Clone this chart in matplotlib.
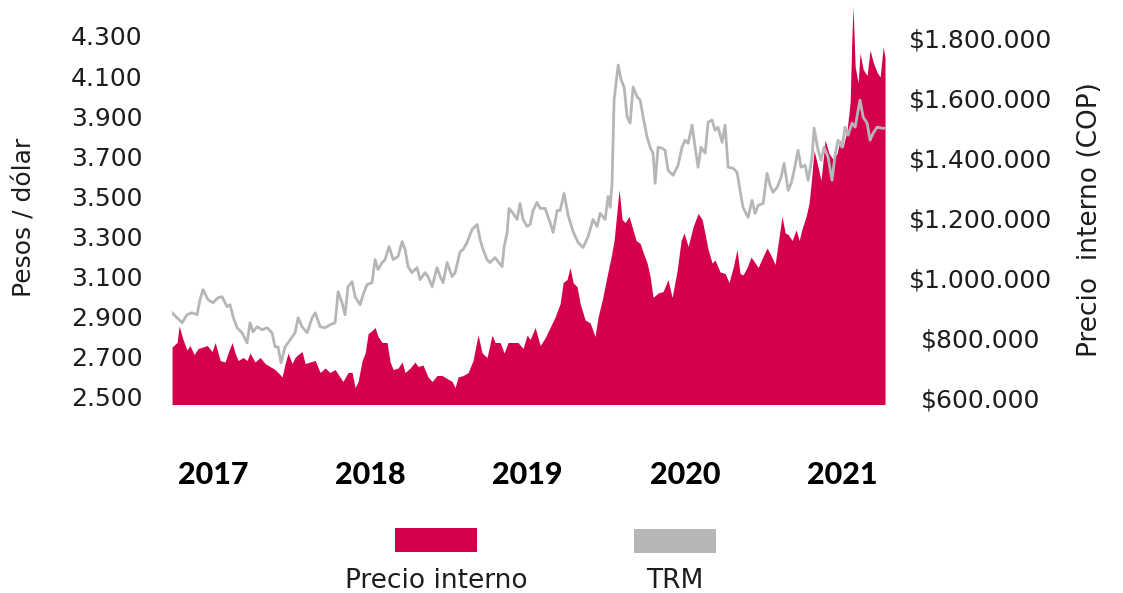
import matplotlib
matplotlib.use('Agg')
import matplotlib.pyplot as plt
from matplotlib.patches import Rectangle

# fecha en años decimales; TRM en pesos por dólar
trm_t = [2017.239, 2017.271, 2017.303, 2017.334, 2017.366, 2017.398, 2017.417, 2017.436, 2017.468, 2017.500,
         2017.532, 2017.557, 2017.589, 2017.608, 2017.627, 2017.653, 2017.684, 2017.716, 2017.735, 2017.754,
         2017.780, 2017.812, 2017.843, 2017.875, 2017.894, 2017.913, 2017.932, 2017.958, 2017.990, 2018.021,
         2018.041, 2018.066, 2018.098, 2018.130, 2018.149, 2018.181, 2018.212, 2018.244, 2018.276, 2018.295,
         2018.320, 2018.339,
         2018.358, 2018.384, 2018.403, 2018.435, 2018.454, 2018.479, 2018.511, 2018.530, 2018.549, 2018.575,
         2018.594, 2018.619, 2018.645, 2018.676, 2018.702, 2018.721, 2018.740, 2018.765, 2018.797, 2018.816,
         2018.848, 2018.867, 2018.893, 2018.924, 2018.944, 2018.963, 2018.988, 2019.020, 2019.039, 2019.071,
         2019.090, 2019.115, 2019.147, 2019.179, 2019.198, 2019.217, 2019.242, 2019.261, 2019.293, 2019.312,
         2019.338, 2019.351, 2019.370, 2019.382, 2019.408, 2019.433, 2019.452, 2019.471, 2019.497, 2019.516,
         2019.535, 2019.560, 2019.580, 2019.611, 2019.643, 2019.662, 2019.688, 2019.707, 2019.732, 2019.758,
         2019.789, 2019.821, 2019.853, 2019.885, 2019.916, 2019.942, 2019.961, 2019.993, 2020.012, 2020.025,
         2020.037, 2020.050, 2020.076, 2020.095, 2020.114, 2020.133, 2020.152, 2020.171, 2020.197, 2020.216,
         2020.235, 2020.260, 2020.279, 2020.298, 2020.311, 2020.330, 2020.355, 2020.374, 2020.393, 2020.425,
         2020.457, 2020.482, 2020.501, 2020.521, 2020.546, 2020.565, 2020.584, 2020.603, 2020.629, 2020.648,
         2020.673, 2020.692, 2020.711, 2020.737, 2020.756, 2020.775, 2020.807, 2020.832, 2020.851, 2020.870,
         2020.902, 2020.927, 2020.947, 2020.966, 2020.998, 2021.023, 2021.042, 2021.061, 2021.087, 2021.112,
         2021.131, 2021.157, 2021.176, 2021.195, 2021.220, 2021.239, 2021.265, 2021.284, 2021.309, 2021.322,
         2021.347, 2021.366, 2021.385, 2021.411, 2021.436, 2021.455, 2021.474, 2021.500, 2021.519, 2021.538,
         2021.563, 2021.583, 2021.602, 2021.614, 2021.634, 2021.659, 2021.678, 2021.697, 2021.723, 2021.754,
         2021.773]
trm = [2920, 2895, 2870, 2910, 2920, 2910, 2985, 3035, 2985, 2970,
       2995, 3000, 2950, 2960, 2900, 2845, 2820, 2770, 2870, 2825,
       2850, 2835, 2845, 2820, 2750, 2750, 2670, 2750, 2785, 2820,
       2895, 2850, 2820, 2895, 2920, 2850, 2845, 2860, 2870, 3025,
       2970, 2910,
       3050, 3075, 3000, 2960, 3010, 3060, 3070, 3185, 3135, 3170,
       3185, 3250, 3185, 3200, 3275, 3235, 3150, 3120, 3145, 3085,
       3120, 3100, 3050, 3145, 3100, 3070, 3170, 3100, 3120, 3225,
       3235, 3270, 3335, 3360, 3285, 3235, 3185, 3170, 3195, 3175,
       3150, 3250, 3320, 3440, 3415, 3385, 3465, 3385, 3350, 3360,
       3430, 3470, 3440, 3440, 3370, 3320, 3430, 3430, 3515, 3405,
       3325, 3270, 3245, 3300, 3385, 3350, 3415, 3385, 3500, 3445,
       3565, 3980, 4155, 4080, 4045, 3895, 3865, 4045, 3995, 3980,
       3895, 3795, 3745, 3715, 3565, 3745, 3740, 3730, 3630, 3605,
       3655, 3745, 3780, 3765, 3855, 3745, 3645, 3745, 3715, 3870,
       3880, 3830, 3845, 3770, 3855, 3645, 3640, 3620, 3530, 3445,
       3395, 3480, 3415, 3455, 3465, 3615, 3555, 3520, 3545, 3595,
       3665, 3530, 3565, 3630, 3730, 3645, 3655, 3580, 3695, 3840,
       3730, 3680, 3745, 3695, 3580, 3705, 3780, 3745, 3845, 3805,
       3865, 3845, 3930, 3980, 3895, 3865, 3780, 3815, 3845, 3840,
       3840]

# precio interno del café (COP)
precio_t = [2017.239, 2017.271, 2017.284, 2017.309, 2017.334, 2017.353, 2017.379, 2017.405, 2017.436, 2017.462,
            2017.494, 2017.513, 2017.545, 2017.576, 2017.595, 2017.621, 2017.640, 2017.659, 2017.691, 2017.716,
            2017.735, 2017.767, 2017.799, 2017.831, 2017.862, 2017.894, 2017.913, 2017.939, 2017.958, 2017.977,
            2018.002, 2018.021, 2018.041, 2018.066, 2018.085, 2018.117, 2018.149, 2018.181, 2018.212, 2018.244,
            2018.276, 2018.307, 2018.326, 2018.358, 2018.384, 2018.403, 2018.422, 2018.448, 2018.467, 2018.486,
            2018.511, 2018.530, 2018.549, 2018.575, 2018.606, 2018.626, 2018.645, 2018.676, 2018.702, 2018.721,
            2018.753, 2018.784, 2018.804, 2018.835, 2018.867, 2018.893, 2018.924, 2018.956, 2018.988, 2019.020,
            2019.039, 2019.058, 2019.090, 2019.122, 2019.153, 2019.185, 2019.211, 2019.242, 2019.274, 2019.293,
            2019.325, 2019.351, 2019.376, 2019.408, 2019.439, 2019.471, 2019.497, 2019.516, 2019.548, 2019.580,
            2019.611, 2019.643, 2019.675, 2019.707, 2019.726, 2019.751, 2019.770, 2019.789, 2019.815, 2019.834,
            2019.866, 2019.898, 2019.929, 2019.948, 2019.974, 2020.005, 2020.031, 2020.050, 2020.069, 2020.082,
            2020.101, 2020.120, 2020.146, 2020.165, 2020.190, 2020.216, 2020.235, 2020.260, 2020.279, 2020.298,
            2020.330, 2020.362, 2020.393, 2020.419, 2020.451, 2020.476, 2020.495, 2020.521, 2020.552, 2020.584,
            2020.610, 2020.648, 2020.673, 2020.692, 2020.724, 2020.756, 2020.781, 2020.807, 2020.832, 2020.851,
            2020.870, 2020.896, 2020.921, 2020.947, 2020.966, 2020.991, 2021.023, 2021.048, 2021.074, 2021.093,
            2021.118, 2021.138, 2021.157, 2021.182, 2021.208, 2021.227, 2021.246, 2021.271, 2021.290, 2021.303,
            2021.322, 2021.347, 2021.366, 2021.392, 2021.417, 2021.443, 2021.468, 2021.487, 2021.506, 2021.532,
            2021.551, 2021.563, 2021.570, 2021.583, 2021.602, 2021.614, 2021.634, 2021.659, 2021.678, 2021.697,
            2021.723, 2021.742, 2021.761, 2021.773]
precio = [770000, 785000, 840000, 795000, 760000, 775000, 745000, 765000, 770000, 775000,
          755000, 785000, 725000, 720000, 750000, 785000, 750000, 725000, 735000, 725000,
          750000, 720000, 735000, 715000, 705000, 695000, 685000, 670000, 715000, 750000,
          715000, 735000, 745000, 755000, 715000, 720000, 725000, 685000, 700000, 685000,
          695000, 670000, 655000, 685000, 685000, 635000, 655000, 725000, 750000, 815000,
          825000, 835000, 805000, 785000, 785000, 720000, 695000, 700000, 720000, 685000,
          700000, 720000, 705000, 710000, 670000, 655000, 675000, 675000, 665000, 655000,
          635000, 670000, 675000, 685000, 725000, 810000, 750000, 735000, 810000, 785000,
          785000, 750000, 785000, 785000, 785000, 765000, 810000, 795000, 835000, 775000,
          800000, 835000, 870000, 915000, 985000, 995000, 1035000, 985000, 970000, 915000,
          860000, 850000, 805000, 870000, 925000, 1005000, 1070000, 1125000, 1225000, 1295000,
          1195000, 1185000, 1205000, 1170000, 1125000, 1115000, 1085000, 1050000, 1005000, 935000,
          950000, 955000, 995000, 935000, 1025000, 1125000, 1150000, 1105000, 1170000, 1215000,
          1195000, 1095000, 1050000, 1060000, 1020000, 1015000, 985000, 1035000, 1095000, 1015000,
          1010000, 1035000, 1070000, 1050000, 1035000, 1065000, 1100000, 1075000, 1045000, 1115000,
          1205000, 1150000, 1145000, 1125000, 1160000, 1125000, 1165000, 1205000, 1250000, 1315000,
          1425000, 1370000, 1325000, 1460000, 1415000, 1395000, 1415000, 1460000, 1435000, 1495000,
          1585000, 1815000, 1905000, 1705000, 1650000, 1750000, 1695000, 1675000, 1760000, 1720000,
          1685000, 1670000, 1770000, 1735000]

years = ['2017', '2018', '2019', '2020', '2021']
year_pos = [2017.5, 2018.5, 2019.5, 2020.5, 2021.5]
trm_ticks = list(range(2500, 4301, 200))
precio_ticks = list(range(600000, 1800001, 200000))

rojo = '#D5004C'
gris = '#B6B6B8'
negro = '#1d1d1b'

plt.rcParams['font.family'] = 'DejaVu Sans'
plt.rcParams['text.color'] = negro

fig = plt.figure(figsize=(11.23, 5.93), dpi=100)
ax = fig.add_axes([0.1532, 0.3187, 0.6349, 0.6729])
ax2 = ax.twinx()
ax.set_zorder(ax2.get_zorder() + 1)
ax.patch.set_visible(False)

ax2.fill_between(precio_t, 0, precio, color=rojo, linewidth=0)
ax.plot(trm_t, trm, color=gris, linewidth=2.0)

ax.set_xlim(trm_t[0], trm_t[-1])
ax.set_ylim(2465, 4454)
ax2.set_ylim(580000, 1910000)

miles = lambda v: f'{int(v):,}'.replace(',', '.')
ax.set_yticks(trm_ticks, [miles(v) for v in trm_ticks])
ax2.set_yticks(precio_ticks, ['$' + miles(v) for v in precio_ticks])
ax.set_xticks(year_pos, years)

for a in (ax, ax2):
    for s in a.spines.values():
        s.set_visible(False)

ax.tick_params(axis='y', length=0, pad=46.8, labelsize=18, labelcolor=negro)
ax2.tick_params(axis='y', length=0, pad=69, labelsize=18, labelcolor=negro)
ax.tick_params(axis='x', length=0, pad=41, labelcolor='black')
for lbl in ax.get_yticklabels() + ax2.get_yticklabels():
    lbl.set_horizontalalignment('center')
for lbl in ax.get_xticklabels():
    lbl.set_fontfamily(['Lato', 'DejaVu Sans'])
    lbl.set_fontweight('black')
    lbl.set_fontsize(22)

fig.text(0.0214, 0.634, 'Pesos / dólar', rotation=90, ha='center', va='center', fontsize=18)
fig.text(0.9706, 0.629, 'Precio  interno (COP)', rotation=90, ha='center', va='center', fontsize=19)

# leyenda
fig.add_artist(Rectangle((0.3517, 0.0691), 0.0730, 0.0405, transform=fig.transFigure,
                         color=rojo, linewidth=0))
fig.add_artist(Rectangle((0.5646, 0.0675), 0.0730, 0.0405, transform=fig.transFigure,
                         color=gris, linewidth=0))
fig.text(0.3882, 0.0084, 'Precio interno', ha='center', va='baseline', fontsize=19)
fig.text(0.6011, 0.0084, 'TRM', ha='center', va='baseline', fontsize=19)

fig.savefig('out.png', dpi=100)
